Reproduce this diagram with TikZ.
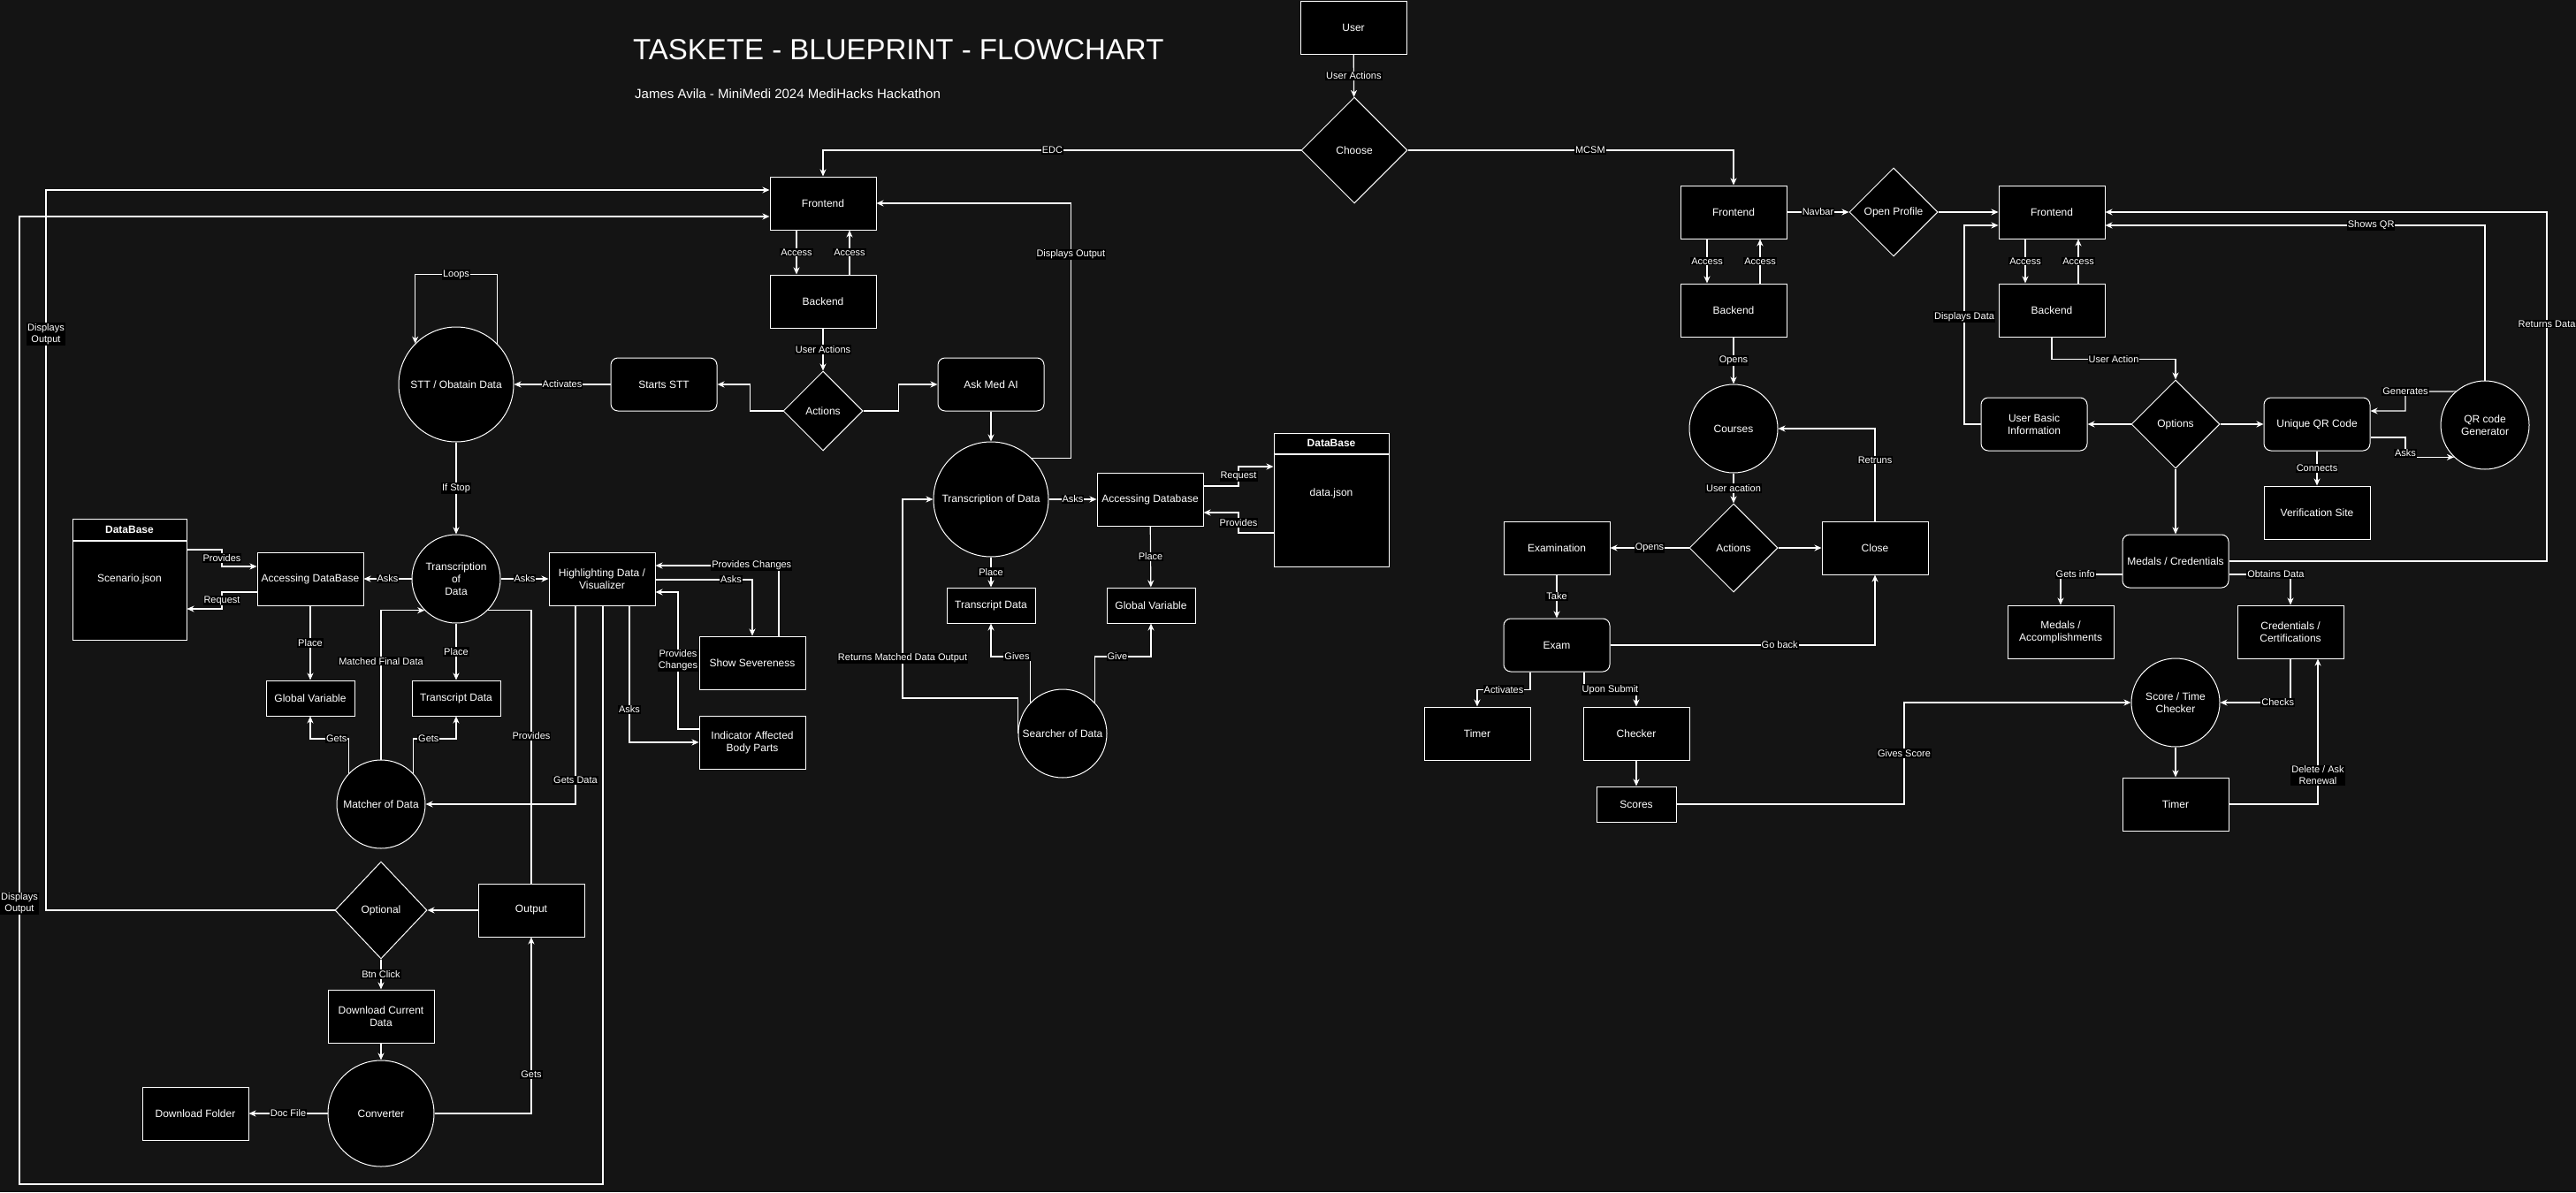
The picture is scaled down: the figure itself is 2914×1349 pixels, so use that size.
\documentclass[tikz,border=0pt]{standalone}
\usepackage{fontspec}
\setmainfont{Liberation Sans}
\usepackage{tikz}
\usetikzlibrary{shapes.geometric,arrows.meta,positioning}
\definecolor{canvas}{RGB}{20,20,20}
\tikzset{
  fbox/.style={rectangle, draw=white, fill=black, text=white, line width=1pt,
    font=\fontsize{12}{14}\selectfont, align=center, inner sep=2pt,
    minimum width=120pt, minimum height=60pt},
  fround/.style={fbox, rounded corners=8pt},
  fsmall/.style={fbox, minimum width=100pt, minimum height=40pt},
  fcirc/.style={circle, draw=white, fill=black, text=white, line width=1pt,
    font=\fontsize{12}{14}\selectfont, align=center, inner sep=1pt, minimum size=100pt},
  fdiam/.style={diamond, draw=white, fill=black, text=white, line width=1pt,
    font=\fontsize{12}{14}\selectfont, inner sep=0pt, minimum width=100pt, minimum height=100pt},
  fhead/.style={fbox, font=\fontsize{12}{14}\selectfont\bfseries, minimum height=24pt},
  ftext/.style={text=white, font=\fontsize{12}{14}\selectfont},
  flink/.style={draw=white, line width=1.2pt, -{Stealth[length=8pt,width=7pt,inset=2.5pt]}},
  fline/.style={draw=white, line width=1.2pt},
  flabel/.style={fill=black, text=white, font=\fontsize{11}{13}\selectfont, align=center, inner sep=1pt}
}
\begin{document}
\begin{tikzpicture}[x=1pt, y=-1pt, node distance=50pt]
  \path[fill=canvas, use as bounding box] (0,0) rectangle (2914,1349);
  \node[anchor=west, inner sep=0pt, text=white, font=\fontsize{33}{39}\selectfont] (title) at (716,56) {TASKETE - BLUEPRINT - FLOWCHART};
  \node[anchor=west, inner sep=0pt, text=white, font=\fontsize{15}{17}\selectfont] (subtitle) at (718,106) {James Avila - MiniMedi 2024 MediHacks Hackathon};

  \node[fbox] (user) at (1531,31) {User};
  \node[fdiam, minimum width=120pt, minimum height=120pt] (choose) at (1532,170) {Choose};

  \node[fbox] (fe1) at (931,230) {Frontend};
  \node[fbox, below=of fe1] (be1) {Backend};
  \node[fdiam, minimum width=90pt, minimum height=90pt] (act1) at (931,465) {Actions};
  \node[fround] (stts) at (751,435) {Starts STT};
  \node[fcirc, minimum size=130pt] (stt) at (516,435) {STT / Obatain Data};
  \node[fcirc] (tr1) at (516,655) {Transcription\\of\\Data};
  \node[fhead, minimum width=129pt] (db1h) at (146.5,599) {DataBase};
  \node[fbox, minimum width=129pt, minimum height=112pt, below=0pt of db1h] (db1) {};
  \node[ftext] (db1t) at (146.5,655) {Scenario.json};
  \node[fbox] (acc1) at (351,655) {Accessing DataBase};
  \node[fsmall] (gv1) at (351,790) {Global Variable};
  \node[fsmall] (td1) at (516,790) {Transcript Data};
  \node[fbox] (hl) at (681,655) {Highlighting Data /\\Visualizer};
  \node[fbox] (ss) at (851,750) {Show Severeness};
  \node[fbox] (ind) at (851,840) {Indicator Affected\\Body Parts};
  \node[fcirc] (mt) at (431,910) {Matcher of Data};
  \node[fdiam, minimum width=104pt, minimum height=110pt] (opt) at (431,1030) {Optional};
  \node[fbox] (out) at (601,1030) {Output};
  \node[fbox] (dl) at (431,1150) {Download Current\\Data};
  \node[fcirc, minimum size=120pt] (conv) at (431,1260) {Converter};
  \node[fbox] (dlf) at (221,1260) {Download Folder};

  \node[fround] (askai) at (1121,435) {Ask Med AI};
  \node[fcirc, minimum size=130pt] (tr2) at (1121,565) {Transcription of Data};
  \node[fbox] (acc2) at (1301,565) {Accessing Database};
  \node[fhead, minimum width=130pt, minimum height=23pt] (db2h) at (1506,501.5) {DataBase};
  \node[fbox, minimum width=130pt, minimum height=127pt, below=0pt of db2h] (db2) {};
  \node[ftext] (db2t) at (1506,558) {data.json};
  \node[fsmall] (td2) at (1121,685) {Transcript Data};
  \node[fsmall] (gv2) at (1302,685) {Global Variable};
  \node[fcirc] (sr) at (1202,830) {Searcher of Data};

  \node[fbox] (fe2) at (1961,240) {Frontend};
  \node[fbox, below=of fe2] (be2) {Backend};
  \node[fcirc] (crs) at (1961,485) {Courses};
  \node[fdiam] (act2) at (1961,620) {Actions};
  \node[fbox] (exm) at (1761,620) {Examination};
  \node[fbox] (cls) at (2121,620) {Close};
  \node[fround] (exam) at (1761,730) {Exam};
  \node[fbox] (tm1) at (1671,830) {Timer};
  \node[fbox] (chk) at (1851,830) {Checker};
  \node[fbox, minimum width=90pt, minimum height=40pt] (scr) at (1851,910) {Scores};

  \node[fdiam] (op) at (2142,240) {Open Profile};
  \node[fbox] (fe3) at (2321,240) {Frontend};
  \node[fbox, below=of fe3] (be3) {Backend};
  \node[fround] (ubi) at (2301,480) {User Basic\\Information};
  \node[fdiam] (opt2) at (2461,480) {Options};
  \node[fround] (uqr) at (2621,480) {Unique QR Code};
  \node[fcirc] (qrg) at (2811,481) {QR code\\Generator};
  \node[fbox] (vs) at (2621,580) {Verification Site};
  \node[fround] (mc) at (2461,635) {Medals / Credentials};
  \node[fbox] (ma) at (2331,715) {Medals /\\Accomplishments};
  \node[fbox] (cc) at (2591,715) {Credentials /\\Certifications};
  \node[fcirc] (stc) at (2461,795) {Score / Time\\Checker};
  \node[fbox] (tm2) at (2461,910) {Timer};

  \draw[flink] (user) -- node[flabel]{User Actions} (choose);
  \draw[flink] (choose) -| node[flabel,pos=0.26]{EDC} (fe1);
  \draw[flink] (choose) -| node[flabel,pos=0.28]{MCSM} (fe2);

  \draw[flink] ([xshift=-30pt]fe1.south) -- node[flabel]{Access} ([xshift=-30pt]be1.north);
  \draw[flink] ([xshift=30pt]be1.north) -- node[flabel]{Access} ([xshift=30pt]fe1.south);
  \draw[flink] (be1) -- node[flabel]{User Actions} (act1);
  \draw[flink] (act1.west) -- ++(-37,0) |- (stts);
  \draw[flink] (stts) -- node[flabel]{Activates} (stt);
  \draw[flink] (stt.45) -- ++(0,-78) -| node[flabel,pos=0.25]{Loops} (stt.135);
  \draw[flink] (stt) -- node[flabel]{If Stop} (tr1);
  \draw[flink] (act1.east) -- ++(40,0) |- (askai);
  \draw[flink] (askai) -- (tr2);
  \draw[flink] (tr2.45) -- ++(44,0) |- node[flabel,pos=0.4]{Displays Output} (fe1.east);

  \draw[flink] (tr1) -- node[flabel]{Asks} (acc1);
  \draw[flink] (db1.east |- 0,622) -- (251,622) |- node[flabel,pos=0.25]{Provides} (acc1.west |- 0,641);
  \draw[flink] (acc1.west |- 0,670) -- (251,670) |- node[flabel,pos=0.25]{Request} (db1.east |- 0,689);
  \draw[flink] (acc1) -- node[flabel]{Place} (gv1);
  \draw[flink] (tr1) -- node[flabel]{Place} (td1);
  \draw[flink] (tr1) -- node[flabel]{Asks} (hl);
  \draw[flink] ([xshift=30pt]ss.north) |- node[flabel,pos=0.61]{Provides Changes} (hl.east |- 0,640);
  \draw[flink] (hl.east |- 0,656) -| node[flabel,pos=0.39]{Asks} (ss.north);
  \draw[flink] (ind.west |- 0,825) -- (767,825) |- node[flabel,pos=0.25]{Provides\\Changes} (hl.east |- 0,670);
  \draw[flink] ([xshift=31pt]hl.south) |- node[flabel,pos=0.38]{Asks} (ind.west);
  \draw[flink] ([xshift=-30pt]hl.south) |- node[flabel,pos=0.44]{Gets Data} (mt.east);
  \draw[flink] (mt.136) -- ++(0,-39) -| node[flabel,pos=0.16]{Gets} (gv1.south);
  \draw[flink] (mt.44) -- ++(0,-39) -| node[flabel,pos=0.18]{Gets} (td1.south);
  \draw[flink] (mt.north) |- node[flabel,pos=0.33]{Matched Final Data} (tr1.225);
  \draw[fline] (tr1.-45) -| node[flabel,pos=0.73]{Provides} (out.north);
  \draw[flink] (out) -- (opt);
  \draw[flink] (opt) -- node[flabel]{Btn Click} (dl);
  \draw[flink] (dl) -- (conv);
  \draw[flink] (conv) -- node[flabel]{Doc File} (dlf);
  \draw[flink] (conv) -| node[flabel,pos=0.61]{Gets} (out);
  \draw[flink] ([xshift=1pt]hl.south) |- (22,1340) -- node[flabel,pos=0.29]{Displays\\Output} (22,245) -- (fe1.west |- 0,245);
  \draw[flink] (opt.west) -- (52,1030) -- node[flabel,pos=0.8]{Displays\\Output} (52,215) -- (fe1.west |- 0,215);

  \draw[flink] (tr2) -- node[flabel]{Asks} (acc2);
  \draw[flink] (acc2.east |- 0,550) -- (1401,550) |- node[flabel,pos=0.25]{Request} (db2.west |- 0,528);
  \draw[flink] (db2.west |- 0,603) -- (1401,603) |- node[flabel,pos=0.25]{Provides} (acc2.east |- 0,580);
  \draw[flink] (acc2) -- node[flabel]{Place} (gv2);
  \draw[flink] (tr2) -- node[flabel]{Place} (td2);
  \draw[flink] (sr.136) -- ++(0,-52) -| node[flabel,pos=0.17]{Gives} (td2.south);
  \draw[flink] (sr.44) -- ++(0,-52) -| node[flabel,pos=0.2]{Give} (gv2.south);
  \draw[flink] (sr.west) -- ++(0,-40) -- (1021,790) -- node[flabel,pos=0.2]{Returns Matched Data Output} (1021,565) -- (tr2.west);

  \draw[flink] ([xshift=-30pt]fe2.south) -- node[flabel]{Access} ([xshift=-30pt]be2.north);
  \draw[flink] ([xshift=30pt]be2.north) -- node[flabel]{Access} ([xshift=30pt]fe2.south);
  \draw[flink] (be2) -- node[flabel]{Opens} (crs);
  \draw[flink] (crs) -- node[flabel]{User acation} (act2);
  \draw[flink] (act2) -- node[flabel]{Opens} (exm);
  \draw[flink] (act2) -- (cls);
  \draw[flink] (cls) |- node[flabel,pos=0.33]{Retruns} (crs);
  \draw[flink] (exm) -- node[flabel]{Take} (exam);
  \draw[flink] (exam) -| node[flabel,pos=0.32]{Go back} (cls);
  \draw[flink] ([xshift=-30pt]exam.south) -- ++(0,20) -| node[flabel,pos=0.25]{Activates} (tm1);
  \draw[flink] ([xshift=31pt]exam.south) -- ++(0,20) -| node[flabel,pos=0.25]{Upon Submit} (chk);
  \draw[flink] (chk) -- (scr);
  \draw[flink] (scr) -- (2154,910) |- node[flabel,pos=0.25]{Gives Score} (stc);

  \draw[flink] (fe2) -- node[flabel]{Navbar} (op);
  \draw[flink] (op) -- (fe3);
  \draw[flink] ([xshift=-30pt]fe3.south) -- node[flabel]{Access} ([xshift=-30pt]be3.north);
  \draw[flink] ([xshift=30pt]be3.north) -- node[flabel]{Access} ([xshift=30pt]fe3.south);
  \draw[flink] (be3.south) -- ++(0,25) -| node[flabel,pos=0.25]{User Action} (opt2);
  \draw[flink] (opt2) -- (ubi);
  \draw[flink] (opt2) -- (uqr);
  \draw[flink] (ubi) -- (2222,480) |- node[flabel,pos=0.27]{Displays Data} (fe3.west |- 0,255);
  \draw[flink] (qrg) |- node[flabel,pos=0.65]{Shows QR} (fe3.east |- 0,255);
  \draw[flink] (mc) -- (2881,635) |- node[flabel,pos=0.34]{Returns Data} (fe3);
  \draw[flink] (qrg.131) -- node[flabel,pos=1]{Generates} (2721,443) |- (uqr.east |- 0,465);
  \draw[flink] (uqr.east |- 0,495) -- (2721,495) |- node[flabel,pos=0.4]{Asks} (qrg.226);
  \draw[flink] (uqr) -- node[flabel]{Connects} (vs);
  \draw[flink] (opt2) -- (mc);
  \draw[flink] (mc.west |- 0,650) -| node[flabel,pos=0.38]{Gets info} (ma);
  \draw[flink] (mc.east |- 0,650) -| node[flabel,pos=0.38]{Obtains Data} (cc);
  \draw[flink] (cc) |- node[flabel,pos=0.59]{Checks} (stc);
  \draw[flink] (stc) -- (tm2);
  \draw[flink] (tm2) -| node[flabel,pos=0.6]{Delete / Ask\\Renewal} ([xshift=31pt]cc.south);
\end{tikzpicture}
\end{document}
